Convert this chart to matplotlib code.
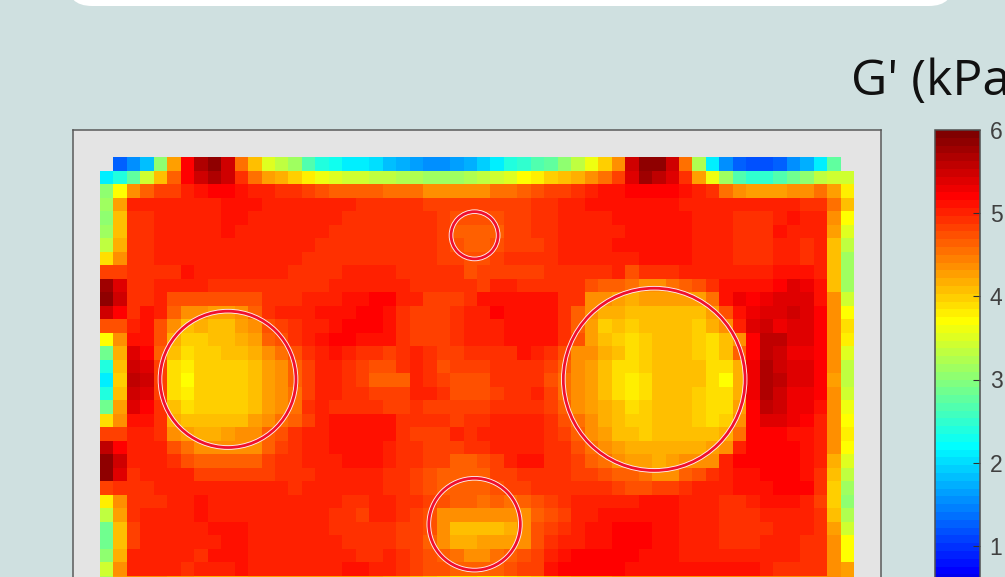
import numpy as np
import matplotlib
matplotlib.use('Agg')
import matplotlib.pyplot as plt
from matplotlib.colors import ListedColormap
from matplotlib.patches import Circle, FancyBboxPatch
from matplotlib.transforms import IdentityTransform

n = np.nan
# G' map in tenths of kPa (row by row, 56 columns)
gmap_tenths = [
[n,14,16,19,31,44,53,58,60,56,46,42,36,34,32,28,25,24,22,22,21,19,18,17,16,16,17,18,20,22,25,26,28,29,31,34,37,41,45,56,60,60,56,46,33,22,16,14,13,13,14,16,18,22,29,n],
[22,25,29,35,42,47,53,56,58,56,50,46,44,43,41,39,37,36,35,35,34,34,33,33,32,32,32,33,34,35,36,38,39,41,42,43,45,46,49,55,59,57,55,50,44,37,32,28,26,26,28,30,31,34,35,35],
[31,38,45,47,49,49,51,52,53,53,52,51,51,50,50,49,48,47,47,47,47,46,46,46,45,45,45,45,45,46,46,47,48,49,49,50,51,52,52,53,53,53,53,52,51,50,46,45,44,44,44,45,45,46,44,39],
[32,44,51,51,51,51,51,51,51,52,52,52,51,51,51,51,51,51,51,50,50,50,50,50,49,49,49,49,49,49,49,49,50,50,51,51,52,52,52,52,52,52,52,51,51,51,51,51,51,51,51,51,50,50,46,42],
[31,42,50,50,51,51,51,51,51,52,52,51,51,51,51,51,51,51,50,50,50,50,50,50,50,49,48,48,48,48,49,49,50,50,51,51,51,51,52,52,52,52,52,52,51,51,51,50,50,50,51,52,51,51,45,38],
[32,42,50,50,51,51,51,51,51,52,51,51,51,51,51,51,51,50,50,50,50,50,50,50,50,49,47,47,47,47,49,49,50,50,51,51,51,51,51,52,52,52,52,52,51,51,51,50,50,50,52,51,51,51,44,36],
[34,43,50,50,51,51,51,51,51,51,51,51,51,51,51,51,50,50,50,50,50,50,50,50,50,49,48,47,47,48,49,49,49,50,51,51,51,51,52,52,52,52,52,52,51,51,51,50,50,50,51,51,50,51,42,34],
[40,45,50,50,51,51,51,51,51,51,51,51,51,51,51,50,50,50,50,50,50,50,50,50,50,49,49,48,48,49,50,50,50,50,51,51,51,51,51,51,52,52,52,52,51,51,51,50,50,50,51,51,50,51,42,32],
[49,49,50,50,50,50,52,51,51,51,51,51,51,51,50,50,50,50,51,51,51,51,50,50,50,50,50,48,49,49,49,49,49,50,50,50,50,50,51,48,50,50,50,51,51,51,51,51,51,51,52,52,52,51,42,32],
[59,55,50,50,51,51,51,51,50,50,50,50,50,50,50,50,50,51,51,51,51,51,51,50,50,50,50,50,49,51,51,50,50,50,50,50,48,47,47,46,45,45,46,47,48,50,52,52,52,52,53,55,54,52,42,32],
[60,56,50,50,51,48,48,48,48,48,48,48,50,50,50,51,51,51,52,52,53,53,51,51,49,49,49,50,52,52,52,52,52,52,50,50,45,45,44,43,44,44,44,44,44,46,52,54,53,54,55,55,55,52,45,35],
[56,53,50,52,51,47,45,45,44,44,45,47,50,51,51,51,52,52,52,53,53,52,50,49,49,49,50,51,51,53,52,52,52,52,50,47,45,43,43,42,42,42,42,42,42,44,48,52,54,55,55,56,55,53,45,38],
[48,48,51,52,48,45,42,43,42,42,44,45,48,49,50,51,51,52,53,53,53,52,50,49,49,49,50,51,51,51,52,52,52,52,50,47,44,41,42,41,42,42,42,42,41,43,45,51,55,56,54,55,55,53,45,40],
[38,45,52,52,48,43,41,41,42,42,43,44,47,48,50,51,52,53,53,52,52,52,50,49,49,49,50,51,51,51,52,52,52,52,50,48,44,42,41,40,41,42,42,42,41,40,42,45,53,57,57,55,55,53,45,39],
[30,43,55,53,47,42,40,41,41,42,42,43,45,46,48,50,51,52,51,50,50,49,50,51,50,49,49,50,50,50,50,52,51,50,48,45,45,43,42,40,41,42,42,42,41,40,42,47,53,57,56,54,54,53,45,36],
[25,42,56,55,49,40,39,41,41,41,41,42,44,45,47,49,51,51,50,49,48,48,50,51,50,48,49,49,49,50,50,50,50,49,47,45,44,42,40,40,41,42,42,42,42,40,40,43,54,58,56,55,55,53,45,34],
[22,41,57,56,49,40,38,41,41,41,41,42,44,45,47,49,51,51,50,49,47,47,47,51,50,49,48,48,48,50,50,50,50,48,46,45,44,42,40,39,40,42,42,42,42,40,38,43,54,58,57,55,55,53,44,34],
[25,42,56,55,49,40,39,41,41,41,41,42,44,45,46,49,51,51,50,50,49,49,49,51,51,50,48,48,48,49,50,50,51,49,46,45,44,42,40,39,40,42,42,42,41,40,40,43,54,58,56,54,54,53,45,35],
[30,44,55,53,50,42,40,41,41,41,41,42,44,45,46,50,51,50,50,50,50,49,49,50,49,49,49,49,49,50,50,50,50,49,47,45,44,43,42,40,41,42,42,42,41,40,40,44,53,57,56,54,54,52,45,37],
[40,45,52,52,50,43,42,42,42,42,42,44,45,46,47,49,51,52,52,52,52,52,50,50,50,50,49,50,50,51,51,51,51,50,48,46,45,43,42,41,41,42,42,42,41,40,41,45,53,55,55,54,53,51,45,38],
[49,49,51,51,50,45,44,43,43,44,45,45,47,48,50,51,51,52,52,52,52,52,50,49,49,49,51,50,51,51,51,51,51,50,49,47,45,44,42,42,41,42,42,42,42,42,43,46,53,53,53,52,52,51,45,39],
[57,53,51,51,51,48,46,45,45,45,45,45,47,49,50,51,51,52,52,52,52,51,50,50,49,49,49,50,50,51,51,51,51,50,50,48,46,45,44,43,43,43,43,43,43,44,45,51,53,53,53,53,52,51,45,38],
[60,56,51,51,51,50,48,47,47,47,47,47,49,50,50,51,51,51,52,52,52,51,50,50,49,49,47,47,48,49,51,52,52,50,50,49,47,46,45,44,44,43,44,45,45,45,51,53,53,53,53,53,52,51,43,36],
[60,55,50,51,51,51,51,49,49,49,49,49,49,50,50,50,51,51,51,51,51,50,50,49,48,47,47,47,47,49,49,50,50,50,50,49,49,48,47,47,46,45,45,47,48,50,51,52,52,53,53,53,52,50,42,34],
[49,50,50,50,51,51,51,51,51,51,51,51,51,51,50,51,51,51,51,51,51,50,50,49,48,47,47,47,47,48,49,49,50,50,50,50,50,50,49,48,48,49,49,50,51,51,51,52,52,52,53,53,53,50,41,32],
[39,45,50,50,50,51,51,52,51,51,51,51,51,51,51,51,51,51,50,50,51,51,50,50,49,48,47,47,46,47,46,47,48,49,50,51,51,51,51,51,52,52,52,51,51,51,50,50,51,52,52,52,51,49,41,31],
[34,44,50,51,51,51,51,52,51,51,51,51,51,51,51,51,51,50,50,49,51,51,50,49,48,45,45,45,45,45,45,45,47,48,49,51,51,52,52,52,52,52,52,51,51,51,50,50,50,51,51,51,51,50,42,33],
[30,42,49,51,51,51,51,51,52,52,52,51,51,51,51,51,51,50,50,50,50,50,49,49,48,45,42,42,42,42,43,45,48,49,50,51,52,52,53,53,53,52,52,51,51,51,50,50,50,50,51,51,51,50,44,35],
[30,42,49,51,51,51,51,51,51,52,52,51,51,51,51,51,51,51,50,50,50,50,49,49,47,45,43,43,44,44,44,45,48,50,51,51,52,52,53,53,53,52,52,51,51,51,50,50,50,51,51,51,50,50,45,38],
[31,43,51,51,51,51,51,50,52,52,52,51,51,51,51,51,51,51,51,50,50,51,50,49,48,47,46,45,45,46,47,48,49,51,52,53,53,53,53,53,52,52,52,51,51,51,51,51,51,51,51,51,50,50,45,38],
[35,45,51,51,51,51,50,51,51,51,52,51,51,51,51,51,51,51,52,52,51,51,50,49,48,48,47,47,47,47,48,49,49,52,53,53,53,53,53,52,52,52,52,52,52,52,52,52,52,51,50,50,50,50,45,44],
[33,44,45,45,45,44,44,43,43,43,43,44,44,44,44,44,44,44,44,44,44,43,43,42,41,40,39,39,38,38,39,40,41,42,43,44,44,44,45,45,45,45,45,45,45,45,45,45,45,45,45,45,45,45,45,44],
]
reading_offset = 0.1  # kPa, my colour readings were one band high
colorbar_ticks = [1, 2, 3, 4, 5, 6]
circle_col = [9.51, 41.16, 27.82, 27.82]
circle_row = [16.47, 16.47, 5.8, 27.2]
circle_rad = [5.05, 6.75, 1.75, 3.4]
title_text = "G' (kPa)"


def matlab_jet(m=64):
    k = int(np.ceil(m / 4))
    u = np.r_[np.arange(1, k + 1) / k, np.ones(k - 1), np.arange(k, 0, -1) / k]
    g = int(np.ceil(k / 2)) - (m % 4 == 1) + np.arange(len(u))
    r, b = g + k, g - k
    rgb = np.zeros((m, 3))
    rgb[r[r < m], 0] = u[r < m]
    rgb[g[g < m], 1] = u[g < m]
    rgb[b[b >= 0], 2] = u[b >= 0]
    return ListedColormap(rgb)


W, H = 1005, 577
BG = '#cfe0e0'
fig = plt.figure(figsize=(W / 100, H / 100), dpi=100, facecolor=BG)


def box(l, t, w, h):
    return [l / W, 1 - (t + h) / H, w / W, h / H]


# white panel clipped at the top of the page
fig.add_artist(FancyBboxPatch((67, H - 6), 887, 60,
                              boxstyle='round,pad=0,rounding_size=25',
                              transform=IdentityTransform(), fc='white', ec='none', lw=0))

values = np.array(gmap_tenths, dtype=float) / 10 - reading_offset
ax = fig.add_axes(box(73, 130, 808, 486))
ax.set_facecolor('#e4e4e4')
mesh = ax.pcolormesh(np.arange(values.shape[1] + 1), np.arange(values.shape[0] + 1),
                     np.ma.masked_invalid(values), cmap=matlab_jet(64),
                     vmin=0, vmax=6, rasterized=True, linewidth=0)
ax.set_xlim(-2, 58)
ax.set_ylim(34, -2)
ax.set_xticks([])
ax.set_yticks([])
for s in ax.spines.values():
    s.set_color('#5a5a5a')
    s.set_linewidth(1.1)

for cx, cy, r in zip(circle_col, circle_row, circle_rad):
    ax.add_patch(Circle((cx, cy), r, fill=False, ec='#ffeeee', lw=3.3, zorder=3))
    ax.add_patch(Circle((cx, cy), r, fill=False, ec='#f0102e', lw=2.0, zorder=4))

cax = fig.add_axes(box(935, 130, 45, 499))
cb = fig.colorbar(mesh, cax=cax, ticks=colorbar_ticks)
cb.outline.set_edgecolor('#505050')
cb.outline.set_linewidth(1.1)
cax.tick_params(axis='y', direction='in', length=5, width=0.8, color='#303030',
                labelsize=16.5, labelcolor='#404040', pad=7)
for t in cax.get_yticklabels():
    t.set_family('Liberation Sans')

fig.text(851 / W, 1 - 95 / H, title_text, fontsize=36, family='Open Sans',
         color='#111111', ha='left', va='baseline')

fig.savefig('out.png', dpi=100, facecolor=BG)
